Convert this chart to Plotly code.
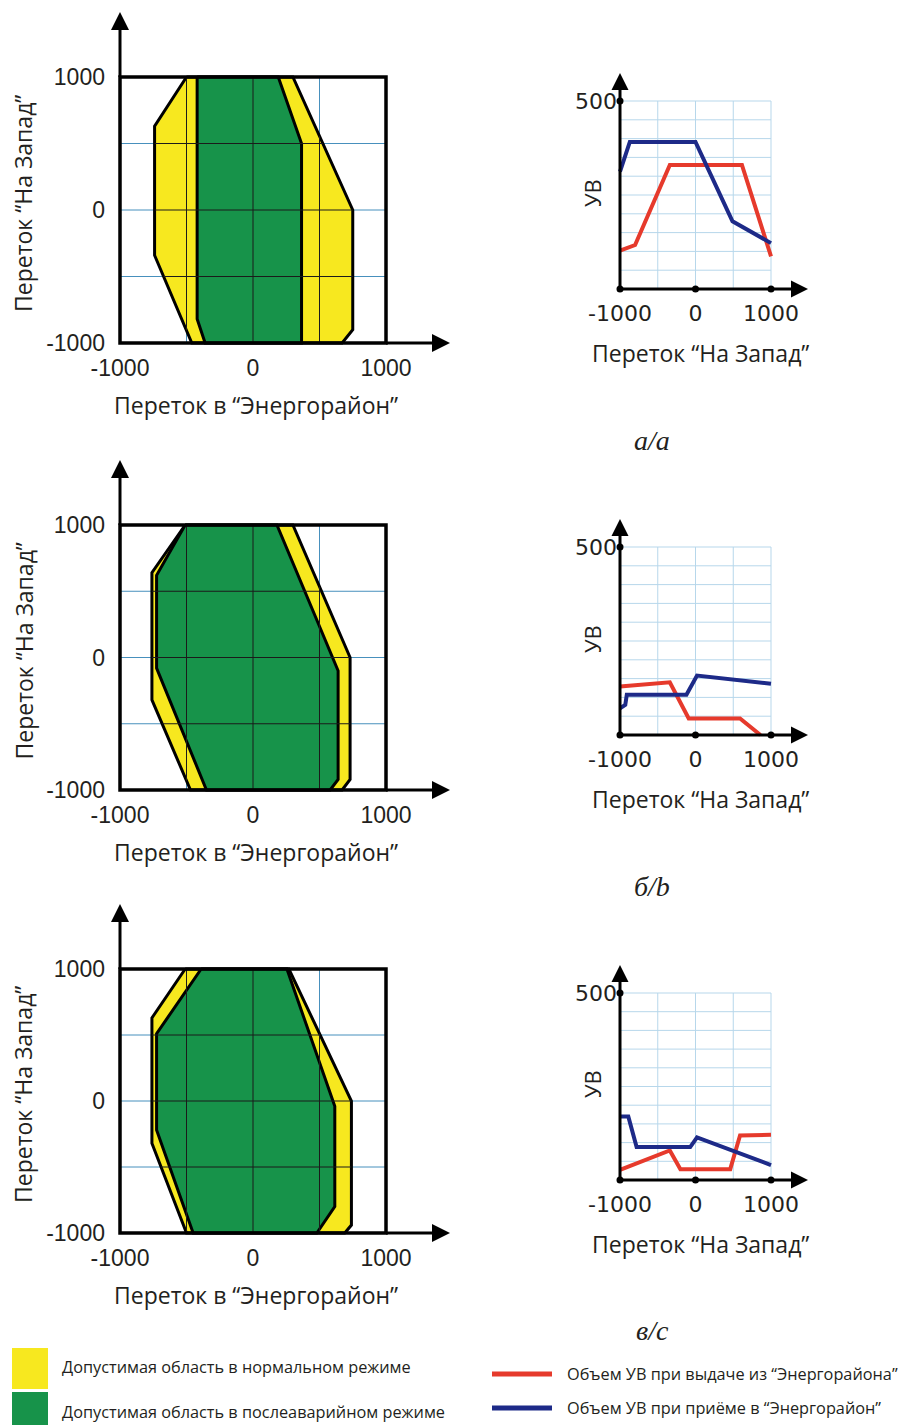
import plotly.graph_objects as go

W, H = 902, 1425

# ---------------- data ----------------
# Left panels: admissible regions (x = Переток в "Энергорайон", y = Переток "На Запад")
norm_a_x = [-500, 300, 750, 750, 670, -460, -740, -740]
norm_a_y = [1000, 1000, 0, -900, -1000, -1000, -340, 630]
post_a_x = [-420, 190, 365, 365, -360, -420]
post_a_y = [1000, 1000, 500, -1000, -1000, -820]

norm_b_x = [-510, 300, 730, 730, 670, -470, -760, -760]
norm_b_y = [1000, 1000, 0, -920, -1000, -1000, -320, 640]
post_b_x = [-510, 180, 640, 640, 580, -350, -725, -725]
post_b_y = [1000, 1000, -100, -920, -1000, -1000, -80, 620]

norm_c_x = [-510, 270, 740, 740, 690, -500, -760, -760]
norm_c_y = [1000, 1000, 0, -940, -1000, -1000, -320, 630]
post_c_x = [-390, 255, 615, 615, 480, -450, -725, -725]
post_c_y = [1000, 1000, -40, -800, -1000, -1000, -220, 510]

# Right panels: УВ vs Переток "На Запад"
out_a_x = [-1000, -800, -340, 615, 1000]
out_a_y = [102, 117, 330, 330, 87]
in_a_x = [-1000, -870, 0, 490, 1000]
in_a_y = [312, 391, 391, 180, 122]

out_b_x = [-1000, -340, -90, 590, 860]
out_b_y = [129, 140, 44, 44, 0]
in_b_x = [-1000, -930, -910, -120, 20, 1000]
in_b_y = [71, 80, 107, 107, 158, 136]

out_c_x = [-1000, -340, -200, 460, 590, 1000]
out_c_y = [27, 79, 29, 29, 119, 121]
in_c_x = [-1000, -890, -780, -70, 20, 1000]
in_c_y = [170, 170, 88, 88, 114, 40]

# ticks and texts
flow_ticks = [-1000, 0, 1000]
flow_tick_labels = ["-1000", "0", "1000"]
uv_ticks = [500]
uv_tick_labels = ["500"]
left_grid = [-500, 0, 500]
right_vgrid = [-500, 0, 500, 1000]
right_hgrid = [50, 100, 150, 200, 250, 300, 350, 400, 450, 500]

left_xtitle = "Переток в “Энергорайон”"
left_ytitle = "Переток “На Запад”"
right_xtitle = "Переток “На Запад”"
right_ytitle = "УВ"
captions = ["а/a", "б/b", "в/c"]
legend_norm = "Допустимая область в нормальном режиме"
legend_post = "Допустимая область в послеаварийном режиме"
legend_out = "Объем УВ при выдаче из “Энергорайона”"
legend_in = "Объем УВ при приёме в “Энергорайон”"

regions = [(norm_a_x, norm_a_y, post_a_x, post_a_y),
           (norm_b_x, norm_b_y, post_b_x, post_b_y),
           (norm_c_x, norm_c_y, post_c_x, post_c_y)]
curves = [(out_a_x, out_a_y, in_a_x, in_a_y),
          (out_b_x, out_b_y, in_b_x, in_b_y),
          (out_c_x, out_c_y, in_c_x, in_c_y)]

# ---------------- style ----------------
TXT = "#231f20"
YEL = "#f7e81f"
GRN = "#17934a"
RED = "#e63a2c"
BLU = "#1d2a88"
GRID_BLUE = "#4790bd"
GRID_LIGHT = "#b7d7eb"
FONT = "Open Sans"

left_boxes = [(77, 343), (525, 790), (969, 1233)]
right_frames = [(101, 289), (547, 735), (993, 1180)]
caption_y = [440, 887, 1330]
LX0, LX1, LXMAX = 120, 386, 452
RX0, RX1, RXMAX = 620, 771, 810
PAD = 8


def xd(a, b):
    return [a / W, b / W]


def yd(top, bot):
    return [1 - bot / H, 1 - top / H]


def span(px, py, c, horizontal=True):
    vals = []
    n = len(px)
    for k in range(n):
        x1, y1 = px[k], py[k]
        x2, y2 = px[(k + 1) % n], py[(k + 1) % n]
        if not horizontal:
            x1, y1, x2, y2 = y1, x1, y2, x2
        if y1 != y2 and (y1 - c) * (y2 - c) <= 0:
            t = (c - y1) / (y2 - y1)
            vals.append(x1 + t * (x2 - x1))
    if not vals:
        return None
    return min(vals), max(vals)


def note(text, x, y, size, family=FONT, angle=0, xanchor="center"):
    return dict(text=text, xref="paper", yref="paper", x=x / W, y=1 - y / H,
                xanchor=xanchor, yanchor="middle", textangle=angle, showarrow=False,
                font=dict(family=family, size=size, color=TXT))


fig = go.Figure()
shapes = []
annotations = []
lay = {}

for i in range(3):
    li, ri = 2 * i + 1, 2 * i + 2
    lx = "x" if li == 1 else f"x{li}"
    ly = "y" if li == 1 else f"y{li}"
    rx, ry = f"x{ri}", f"y{ri}"

    # ---------- left panel ----------
    top, bot = left_boxes[i]
    sx = (LX1 - LX0) / 2000
    sy = (bot - top) / 2000
    lay["xaxis" if li == 1 else f"xaxis{li}"] = dict(
        domain=xd(LX0 - PAD, LXMAX), range=[-1000 - PAD / sx, -1000 + (LXMAX - LX0) / sx],
        anchor=ly, showgrid=False, zeroline=False, showline=False, ticks="", automargin=False,
        tickmode="array", tickvals=flow_ticks, ticktext=flow_tick_labels,
        tickfont=dict(family="Liberation Sans", size=23, color=TXT), ticklabelstandoff=1)
    lay["yaxis" if li == 1 else f"yaxis{li}"] = dict(
        domain=yd(top - 66, bot + PAD), range=[-1000 - PAD / sy, 1000 + 66 / sy],
        anchor=lx, showgrid=False, zeroline=False, showline=False, ticks="", automargin=False,
        tickmode="array", tickvals=flow_ticks, ticktext=flow_tick_labels,
        tickfont=dict(family="Liberation Sans", size=23, color=TXT), ticklabelstandoff=6)

    for g in left_grid:
        shapes.append(dict(type="line", xref=lx, yref=ly, x0=g, x1=g, y0=-1000, y1=1000,
                           line=dict(color=GRID_BLUE, width=1), layer="below"))
        shapes.append(dict(type="line", xref=lx, yref=ly, x0=-1000, x1=1000, y0=g, y1=g,
                           line=dict(color=GRID_BLUE, width=1), layer="below"))

    nx, ny, gx, gy = regions[i]
    fig.add_trace(go.Scatter(x=nx + [nx[0]], y=ny + [ny[0]], xaxis=lx, yaxis=ly, mode="lines",
                             fill="toself", fillcolor=YEL, line=dict(color="black", width=3),
                             hoverinfo="skip", showlegend=False))
    fig.add_trace(go.Scatter(x=gx + [gx[0]], y=gy + [gy[0]], xaxis=lx, yaxis=ly, mode="lines",
                             fill="toself", fillcolor=GRN, line=dict(color="black", width=3),
                             hoverinfo="skip", showlegend=False))
    # grid lines crossing the regions appear dark
    sgx, sgy = [], []
    for g in left_grid:
        s = span(nx, ny, g, True)
        if s:
            sgx += [s[0], s[1], None]
            sgy += [g, g, None]
        s = span(nx, ny, g, False)
        if s:
            sgx += [g, g, None]
            sgy += [s[0], s[1], None]
    fig.add_trace(go.Scatter(x=sgx, y=sgy, xaxis=lx, yaxis=ly, mode="lines",
                             line=dict(color="#1b1b1b", width=1), hoverinfo="skip", showlegend=False))

    shapes.append(dict(type="rect", xref=lx, yref=ly, x0=-1000, x1=1000, y0=-1000, y1=1000,
                       line=dict(color="black", width=3.5), layer="above"))
    ytip = 1000 + 65 / sy
    xtip = -1000 + (450 - LX0) / sx
    shapes.append(dict(type="line", xref=lx, yref=ly, x0=-1000, x1=-1000, y0=1000, y1=ytip - 8 / sy,
                       line=dict(color="black", width=3)))
    shapes.append(dict(type="line", xref=lx, yref=ly, x0=1000, x1=xtip - 8 / sx, y0=-1000, y1=-1000,
                       line=dict(color="black", width=3)))
    fig.add_trace(go.Scatter(x=[-1000, xtip], y=[ytip, -1000], xaxis=lx, yaxis=ly, mode="markers",
                             marker=dict(symbol=["arrow-up", "arrow-right"], size=18, color="black",
                                         line=dict(width=0)),
                             cliponaxis=False, hoverinfo="skip", showlegend=False))

    annotations.append(note(left_xtitle, 256, bot + 62, 23))
    annotations.append(note(left_ytitle, 23, (top + bot) / 2 - 6, 23, angle=-90))

    # ---------- right panel ----------
    y500, y0 = right_frames[i]
    sx = (RX1 - RX0) / 2000
    sy = (y0 - y500) / 500
    lay[f"xaxis{ri}"] = dict(
        domain=xd(RX0 - PAD, RXMAX), range=[-1000 - PAD / sx, -1000 + (RXMAX - RX0) / sx],
        anchor=ry, showgrid=False, zeroline=False, showline=False, ticks="", automargin=False,
        tickmode="array", tickvals=flow_ticks, ticktext=flow_tick_labels,
        tickfont=dict(family="DejaVu Sans", size=22, color=TXT), ticklabelstandoff=1)
    lay[f"yaxis{ri}"] = dict(
        domain=yd(y500 - 30, y0 + PAD), range=[-PAD / sy, 500 + 30 / sy],
        anchor=rx, showgrid=False, zeroline=False, showline=False, ticks="", automargin=False,
        tickmode="array", tickvals=uv_ticks, ticktext=uv_tick_labels,
        tickfont=dict(family="DejaVu Sans", size=22, color=TXT), ticklabelstandoff=-6)

    for g in right_vgrid:
        shapes.append(dict(type="line", xref=rx, yref=ry, x0=g, x1=g, y0=0, y1=500,
                           line=dict(color=GRID_LIGHT, width=1), layer="below"))
    for g in right_hgrid:
        shapes.append(dict(type="line", xref=rx, yref=ry, x0=-1000, x1=1000, y0=g, y1=g,
                           line=dict(color=GRID_LIGHT, width=1), layer="below"))

    ox, oy, ix, iy = curves[i]
    fig.add_trace(go.Scatter(x=ox, y=oy, xaxis=rx, yaxis=ry, mode="lines",
                             line=dict(color=RED, width=4), hoverinfo="skip", showlegend=False))
    fig.add_trace(go.Scatter(x=ix, y=iy, xaxis=rx, yaxis=ry, mode="lines",
                             line=dict(color=BLU, width=4), hoverinfo="skip", showlegend=False))

    ytip = 500 + 28 / sy
    xtip = -1000 + (808 - RX0) / sx
    shapes.append(dict(type="line", xref=rx, yref=ry, x0=-1000, x1=-1000, y0=0, y1=ytip - 8 / sy,
                       line=dict(color="black", width=3)))
    shapes.append(dict(type="line", xref=rx, yref=ry, x0=-1000, x1=xtip - 8 / sx, y0=0, y1=0,
                       line=dict(color="black", width=3)))
    fig.add_trace(go.Scatter(x=[-1000, xtip], y=[ytip, 0], xaxis=rx, yaxis=ry, mode="markers",
                             marker=dict(symbol=["arrow-up", "arrow-right"], size=17, color="black",
                                         line=dict(width=0)),
                             cliponaxis=False, hoverinfo="skip", showlegend=False))
    fig.add_trace(go.Scatter(x=flow_ticks + [-1000], y=[0, 0, 0, 500], xaxis=rx, yaxis=ry, mode="markers",
                             marker=dict(symbol="circle", size=7, color="black"),
                             cliponaxis=False, hoverinfo="skip", showlegend=False))

    annotations.append(note(right_xtitle, 700, y0 + 64, 23))
    annotations.append(note(right_ytitle, 592, y0 - 96, 22, angle=-90))
    annotations.append(note(f"<i>{captions[i]}</i>", 652, caption_y[i], 28, family="Liberation Serif"))

# ---------------- legend ----------------
shapes.append(dict(type="rect", xref="paper", yref="paper", x0=12 / W, x1=48 / W,
                   y0=1 - 1389 / H, y1=1 - 1348 / H, fillcolor=YEL, line=dict(width=0)))
shapes.append(dict(type="rect", xref="paper", yref="paper", x0=12 / W, x1=48 / W,
                   y0=0, y1=1 - 1392 / H, fillcolor=GRN, line=dict(width=0)))
shapes.append(dict(type="line", xref="paper", yref="paper", x0=492 / W, x1=552 / W,
                   y0=1 - 1374 / H, y1=1 - 1374 / H, line=dict(color=RED, width=5)))
shapes.append(dict(type="line", xref="paper", yref="paper", x0=492 / W, x1=552 / W,
                   y0=1 - 1408 / H, y1=1 - 1408 / H, line=dict(color=BLU, width=5)))
for txt, x, y in [(legend_norm, 60, 1367), (legend_post, 60, 1412),
                  (legend_out, 565, 1374), (legend_in, 565, 1408)]:
    annotations.append(note(txt, x, y, 16.3, xanchor="left"))

fig.update_layout(width=W, height=H, margin=dict(l=0, r=0, t=0, b=0, autoexpand=False),
                  paper_bgcolor="white", plot_bgcolor="rgba(0,0,0,0)",
                  shapes=shapes, annotations=annotations, showlegend=False, **lay)
fig.write_html("out.html", config={"displayModeBar": False},
               post_script="document.body.style.margin='0';")
